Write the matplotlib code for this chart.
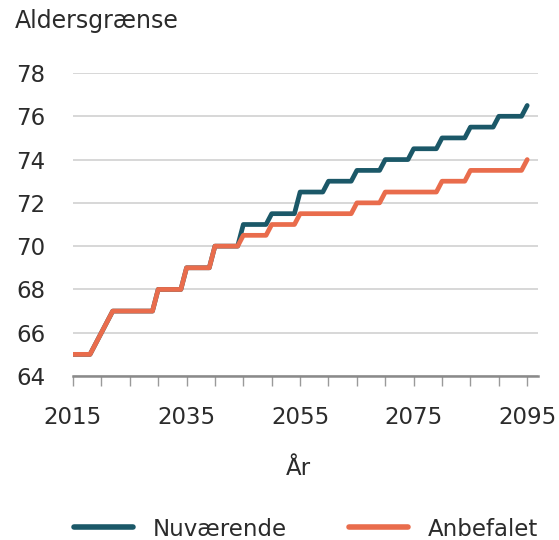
"""
plot.py — Aldersgrænse, nuværende vs. anbefalet (1 verdi per år).
"""
import matplotlib
matplotlib.use("Agg")
import matplotlib.pyplot as plt
from matplotlib.ticker import MultipleLocator

years = list(range(2015, 2096))

# nuværende regler, 2015..2095
nuvaerende = [
    65, 65, 65, 65, 65.5, 66, 66.5, 67, 67, 67,          # 2015-2024
    67, 67, 67, 67, 67, 68, 68, 68, 68, 68,              # 2025-2034
    69, 69, 69, 69, 69, 70, 70, 70, 70, 70,              # 2035-2044
    71, 71, 71, 71, 71, 71.5, 71.5, 71.5, 71.5, 71.5,    # 2045-2054
    72.5, 72.5, 72.5, 72.5, 72.5, 73, 73, 73, 73, 73,    # 2055-2064
    73.5, 73.5, 73.5, 73.5, 73.5, 74, 74, 74, 74, 74,    # 2065-2074
    74.5, 74.5, 74.5, 74.5, 74.5, 75, 75, 75, 75, 75,    # 2075-2084
    75.5, 75.5, 75.5, 75.5, 75.5, 76, 76, 76, 76, 76,    # 2085-2094
    76.5,                                                # 2095
]

# anbefalet, 2015..2095
anbefalet = [
    65, 65, 65, 65, 65.5, 66, 66.5, 67, 67, 67,          # 2015-2024
    67, 67, 67, 67, 67, 68, 68, 68, 68, 68,              # 2025-2034
    69, 69, 69, 69, 69, 70, 70, 70, 70, 70,              # 2035-2044
    70.5, 70.5, 70.5, 70.5, 70.5, 71, 71, 71, 71, 71,    # 2045-2054
    71.5, 71.5, 71.5, 71.5, 71.5, 71.5, 71.5, 71.5, 71.5, 71.5,  # 2055-2064
    72, 72, 72, 72, 72, 72.5, 72.5, 72.5, 72.5, 72.5,    # 2065-2074
    72.5, 72.5, 72.5, 72.5, 72.5, 73, 73, 73, 73, 73,    # 2075-2084
    73.5, 73.5, 73.5, 73.5, 73.5, 73.5, 73.5, 73.5, 73.5, 73.5,  # 2085-2094
    74,                                                  # 2095
]

x_ticks = [2015, 2035, 2055, 2075, 2095]
y_ticks = [64, 66, 68, 70, 72, 74, 76, 78]

BLUE = "#1b5868"
ORANGE = "#e96c4c"
TXT = "#2b2b2b"
FS = 16.5

plt.rcParams["font.family"] = ["DejaVu Sans"]

fig = plt.figure(figsize=(5.59, 5.40), dpi=100, facecolor="white")
ax = fig.add_axes([73 / 559, 164 / 540, (538 - 73) / 559, (467 - 164) / 540])

ax.plot(years, nuvaerende, color=BLUE, linewidth=3.4, solid_capstyle="round",
        solid_joinstyle="round", label="Nuværende", zorder=3)
ax.plot(years, anbefalet, color=ORANGE, linewidth=3.4, solid_capstyle="round",
        solid_joinstyle="round", label="Anbefalet", zorder=4)

ax.set_xlim(2015, 2096.9)
ax.set_ylim(64, 78)
ax.set_xticks(x_ticks)
ax.xaxis.set_minor_locator(MultipleLocator(5))
ax.set_yticks(y_ticks)

for s in ["top", "right", "left"]:
    ax.spines[s].set_visible(False)
ax.spines["bottom"].set_color("#8a8a8a")
ax.spines["bottom"].set_linewidth(1.8)
ax.spines["bottom"].set_zorder(5)

ax.grid(axis="y", color="#d4d4d4", linewidth=1.3, zorder=1)
ax.set_axisbelow(True)

ax.tick_params(axis="y", length=0, pad=20, labelsize=FS, labelcolor=TXT)
ax.tick_params(axis="x", which="both", length=7.5, width=1.0, color="#9a9a9a",
               direction="out")
ax.tick_params(axis="x", which="major", pad=14, labelsize=FS, labelcolor=TXT)

ax.set_xlabel("År", fontsize=FS, color=TXT)
ax.xaxis.set_label_coords(0.484, -0.267)

fig.text(15 / 559, 1 - 28 / 540, "Aldersgrænse", fontsize=FS + 0.5, color=TXT,
         ha="left", va="baseline")

leg = fig.legend(loc="center", bbox_to_anchor=(306 / 559, 1 - 529 / 540),
                 ncol=2, frameon=False, fontsize=FS, handlelength=2.6,
                 handletextpad=0.85, columnspacing=2.7, borderaxespad=0)
for t in leg.get_texts():
    t.set_color(TXT)
for h in leg.legend_handles:
    h.set_linewidth(4)

fig.savefig("out.png", dpi=100, facecolor="white")
